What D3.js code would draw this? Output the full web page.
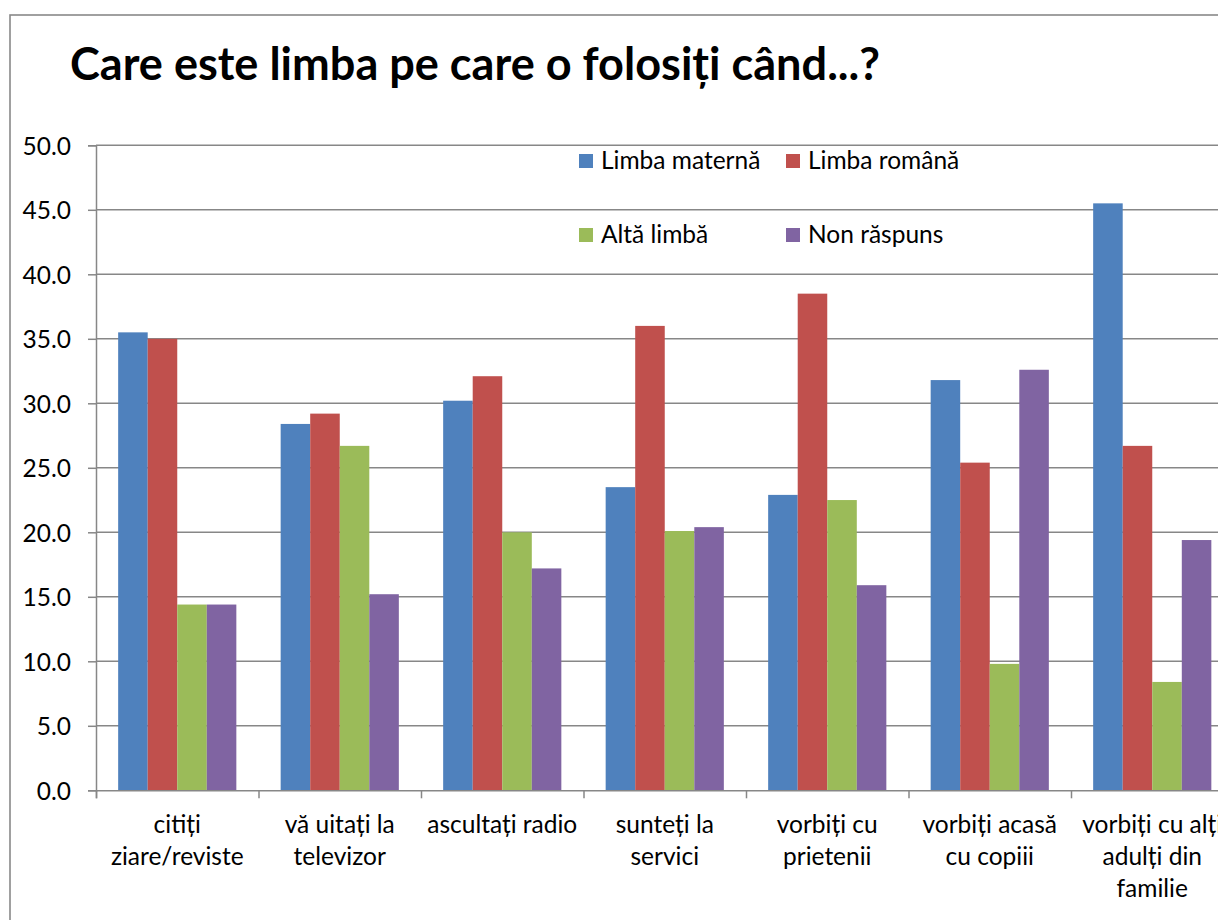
<!DOCTYPE html>
<html lang="ro">
  <head>
    <meta charset="utf-8">
    <title>Care este limba pe care o folosiți când...?</title>
    <script src="https://cdn.jsdelivr.net/npm/d3@7"></script>
    <style>
      body { margin: 0; background: #fff; }
      text { font-family: Lato, "Open Sans", sans-serif; fill: #000; }
    </style>
  </head>
  <body>
    <div id="grafic"></div>
    <script>
      // date
      const categorii = [
        'citiți\nziare/reviste',
        'vă uitați la\ntelevizor',
        'ascultați radio',
        'sunteți la\nservici',
        'vorbiți cu\nprietenii',
        'vorbiți acasă\ncu copiii',
        'vorbiți cu alți\nadulți din\nfamilie'
      ]
      const serii = ['Limba maternă', 'Limba română', 'Altă limbă', 'Non răspuns']
      const limbaMaterna = [35.5, 28.4, 30.2, 23.5, 22.9, 31.8, 45.5]
      const limbaRomana  = [35.0, 29.2, 32.1, 36.0, 38.5, 25.4, 26.7]
      const altaLimba    = [14.4, 26.7, 20.0, 20.1, 22.5, 9.8, 8.4]
      const nonRaspuns   = [14.4, 15.2, 17.2, 20.4, 15.9, 32.6, 19.4]
      const valoriY = [0, 5, 10, 15, 20, 25, 30, 35, 40, 45, 50]

      const culori = ['#4f81bd', '#c0504d', '#9bbb59', '#8064a2']
      const valori = [limbaMaterna, limbaRomana, altaLimba, nonRaspuns]

      const largura = 1218,
            altura = 920,
            margem = { esquerda: 96, topo: 145.3, base: 790.3 },
            largCat = 162.5,
            direita = margem.esquerda + largCat * categorii.length

      const svg = d3.select('#grafic')
        .append('svg')
          .attr('width', largura)
          .attr('height', altura)

      svg.append('rect')
        .attr('width', largura).attr('height', altura)
        .attr('fill', '#fff')

      // chenarul graficului
      svg.append('rect')
        .attr('x', 10).attr('y', 15)
        .attr('width', 1400).attr('height', 1000)
        .attr('fill', 'none')
        .attr('stroke', '#898989')
        .attr('stroke-width', 1.6)

      svg.append('text')
        .attr('x', 70).attr('y', 80)
        .attr('font-size', 45)
        .attr('font-weight', 'bold')
        .attr('textLength', 810)
        .attr('lengthAdjust', 'spacingAndGlyphs')
        .text('Care este limba pe care o folosiți când...?')

      const y = d3.scaleLinear()
        .domain([0, 50])
        .range([margem.base, margem.topo])

      const x = d3.scaleBand()
        .domain(categorii)
        .range([margem.esquerda, direita])

      const gol = x.bandwidth() * 1.5 / 5.5
      const x1 = d3.scaleBand()
        .domain(serii)
        .range([gol / 2, x.bandwidth() - gol / 2])

      // linii de grilă
      svg.append('g')
        .selectAll('line')
        .data(valoriY.filter(d => d > 0))
        .join('line')
          .attr('x1', margem.esquerda).attr('x2', direita)
          .attr('y1', d => y(d)).attr('y2', d => y(d))
          .attr('stroke', '#878787')
          .attr('stroke-width', 1.5)

      // bare
      serii.forEach((s, i) => {
        svg.append('g')
          .attr('fill', culori[i])
          .selectAll('rect')
          .data(valori[i])
          .join('rect')
            .attr('x', (d, j) => x(categorii[j]) + x1(s))
            .attr('y', d => y(d))
            .attr('width', x1.bandwidth())
            .attr('height', d => y(0) - y(d))
      })

      // axa Y
      const eixoY = svg.append('g')
        .attr('transform', `translate(${margem.esquerda},0)`)
        .call(d3.axisLeft(y).tickValues(valoriY).tickFormat(d3.format('.1f')).tickSize(8).tickPadding(17))
      eixoY.select('.domain').attr('stroke', '#878787').attr('stroke-width', 1.5)
      eixoY.selectAll('.tick line').attr('stroke', '#878787').attr('stroke-width', 1.5)
      eixoY.selectAll('.tick text')
        .attr('font-size', 24.5)
        .attr('font-family', 'Lato, sans-serif')
        .attr('dy', '0.36em')

      // axa X
      const xMargini = d3.scaleLinear()
        .domain([0, categorii.length])
        .range([margem.esquerda, direita])
      const eixoX = svg.append('g')
        .attr('transform', `translate(0,${margem.base})`)
        .call(d3.axisBottom(xMargini).tickValues(d3.range(categorii.length + 1)).tickFormat('').tickSize(8))
      eixoX.select('.domain').attr('stroke', '#878787').attr('stroke-width', 1.5)
      eixoX.selectAll('.tick line').attr('stroke', '#878787').attr('stroke-width', 1.5)

      const etichete = svg.append('g')
        .selectAll('text')
        .data(categorii)
        .join('text')
          .attr('x', d => x(d) + x.bandwidth() / 2)
          .attr('y', 833)
          .attr('text-anchor', 'middle')
          .attr('font-size', 24.5)
      etichete.selectAll('tspan')
        .data(d => d.split('\n'))
        .join('tspan')
          .attr('x', function () { return this.parentNode.getAttribute('x') })
          .attr('dy', (d, i) => i === 0 ? 0 : 32)
          .text(d => d)

      // legenda
      const legenda = [
        { x: 579, y: 154 },
        { x: 786, y: 154 },
        { x: 579, y: 228 },
        { x: 786, y: 228 }
      ]
      const itens = svg.append('g')
        .selectAll('g')
        .data(serii)
        .join('g')
          .attr('transform', (d, i) => `translate(${legenda[i].x},${legenda[i].y})`)
      itens.append('rect')
        .attr('width', 14).attr('height', 14)
        .attr('fill', (d, i) => culori[i])
      itens.append('text')
        .attr('x', 22).attr('y', 15)
        .attr('font-size', 24.5)
        .text(d => d)
    </script>
  </body>
</html>
